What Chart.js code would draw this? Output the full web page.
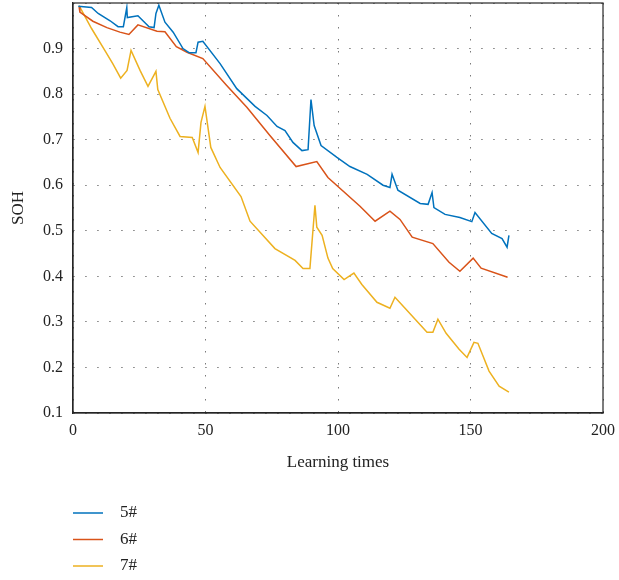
<!DOCTYPE html>
<html>
<head>
<meta charset="utf-8">
<script src="https://cdn.jsdelivr.net/npm/chart.js@4/dist/chart.umd.min.js"></script>
<style>
  html, body { margin: 0; padding: 0; background: #fff; }
  #wrap { width: 619px; height: 580px; }
</style>
</head>
<body>
<div id="wrap"><canvas id="chart" width="619" height="580"></canvas></div>
<script>
// series 5#
const s5X = [2, 7, 9.5, 14, 17, 19, 20.3, 20.5, 24.5, 28.7, 30.6, 31.3, 32.4, 34.7, 37.8, 41.5, 43.8, 46.4, 47.2, 49, 55.5, 61.8, 68.7, 73.2, 77, 80, 83, 86.4, 88.7, 89.8, 91, 93.6, 99.6, 104.5, 111, 117, 119.6, 120.4, 122.6, 131, 134, 135.5, 136.2, 140.4, 146, 150.5, 151.7, 158, 161.9, 163.8, 164.5];
const s5Y = [0.993, 0.99, 0.977, 0.961, 0.948, 0.948, 0.99, 0.968, 0.972, 0.948, 0.946, 0.977, 0.995, 0.958, 0.936, 0.9, 0.891, 0.891, 0.914, 0.916, 0.867, 0.812, 0.773, 0.753, 0.729, 0.72, 0.694, 0.676, 0.678, 0.788, 0.731, 0.687, 0.661, 0.641, 0.624, 0.6, 0.595, 0.624, 0.589, 0.56, 0.558, 0.584, 0.551, 0.536, 0.529, 0.52, 0.54, 0.494, 0.483, 0.464, 0.49];

// series 6#
const s6X = [2.3, 2.6, 7.5, 12.8, 17.7, 21.1, 24.5, 31.7, 34.7, 39, 43, 49, 58, 65.6, 74.3, 84.2, 92, 96.2, 108.3, 114, 119.6, 123.4, 128, 135.8, 141.9, 146, 151, 154, 164];
const s6Y = [0.992, 0.98, 0.96, 0.946, 0.936, 0.931, 0.952, 0.938, 0.937, 0.904, 0.892, 0.878, 0.819, 0.771, 0.709, 0.641, 0.652, 0.617, 0.554, 0.521, 0.543, 0.525, 0.486, 0.472, 0.431, 0.411, 0.44, 0.418, 0.398];

// series 7#
const s7X = [2.3, 7, 12, 15, 18, 20.4, 21.9, 25.3, 28.3, 31.3, 32, 36.6, 40.4, 45, 47.2, 48.3, 49.8, 52, 55.5, 63.4, 66.8, 70.6, 76.2, 83.8, 86.8, 89.4, 91.3, 92, 94, 96.2, 98, 102.3, 106, 109, 114.7, 119.6, 121.5, 125.3, 133.6, 135.8, 137.7, 140.8, 145.7, 148.7, 151.3, 152.8, 157, 160.8, 164.5];
const s7Y = [0.994, 0.944, 0.896, 0.867, 0.835, 0.852, 0.896, 0.852, 0.817, 0.85, 0.81, 0.747, 0.707, 0.705, 0.672, 0.738, 0.773, 0.683, 0.639, 0.575, 0.521, 0.497, 0.461, 0.435, 0.417, 0.417, 0.556, 0.508, 0.49, 0.44, 0.417, 0.393, 0.407, 0.382, 0.343, 0.33, 0.354, 0.33, 0.277, 0.277, 0.306, 0.275, 0.24, 0.222, 0.255, 0.253, 0.192, 0.159, 0.146];

const seriesLabels = ['5#', '6#', '7#'];
const seriesColors = ['#0072BD', '#D95319', '#EDB120'];
const xTicks = [0, 50, 100, 150, 200];
const yTicks = [0.1, 0.2, 0.3, 0.4, 0.5, 0.6, 0.7, 0.8, 0.9, 1.0];

const serif = '"Liberation Serif", "DejaVu Serif", serif';

const toPoints = (xs, ys) => xs.map((x, i) => ({ x: x, y: ys[i] }));

const makeDataset = (label, xs, ys, color) => ({
    label: label,
    data: toPoints(xs, ys),
    borderColor: color,
    backgroundColor: color,
    borderWidth: 1.5,
    pointRadius: 0,
    tension: 0,
    fill: false
});

// box round the plot area
const frameBox = {
    id: 'frameBox',
    afterDraw(chart) {
        const { ctx, chartArea: a } = chart;
        ctx.save();
        ctx.strokeStyle = '#262626';
        ctx.lineWidth = 1.2;
        ctx.strokeRect(a.left, a.top, a.right - a.left, a.bottom - a.top);
        ctx.restore();
    }
};

// legend stacked under the axis title
const stackedLegend = {
    id: 'stackedLegend',
    afterDraw(chart) {
        const ctx = chart.ctx;
        const left = chart.chartArea.left;
        ctx.save();
        ctx.font = '17px ' + serif;
        ctx.textBaseline = 'middle';
        chart.data.datasets.forEach((ds, i) => {
            const y = 513 + i * 26.5;
            ctx.strokeStyle = ds.borderColor;
            ctx.lineWidth = 1.5;
            ctx.beginPath();
            ctx.moveTo(left, y);
            ctx.lineTo(left + 30, y);
            ctx.stroke();
            ctx.fillStyle = '#222';
            ctx.fillText(ds.label, left + 47, y);
        });
        ctx.restore();
    }
};

new Chart(document.getElementById('chart'), {
    type: 'line',
    data: {
        datasets: [
            makeDataset(seriesLabels[0], s5X, s5Y, seriesColors[0]),
            makeDataset(seriesLabels[1], s6X, s6Y, seriesColors[1]),
            makeDataset(seriesLabels[2], s7X, s7Y, seriesColors[2])
        ]
    },
    options: {
        responsive: false,
        animation: false,
        layout: { padding: { left: 0, top: 3, right: 16, bottom: 97 } },
        plugins: {
            legend: { display: false },
            tooltip: { enabled: false }
        },
        scales: {
            x: {
                type: 'linear',
                min: xTicks[0],
                max: xTicks[xTicks.length - 1],
                afterBuildTicks: (scale) => { scale.ticks = xTicks.map(v => ({ value: v })); },
                afterFit: (scale) => {
                    scale.height = 70;
                    scale.paddingLeft = 0;
                    scale.paddingRight = 0;
                },
                ticks: {
                    padding: 8,
                    color: '#222',
                    font: { family: serif, size: 16 },
                    maxRotation: 0
                },
                grid: { color: '#7a7a7a', lineWidth: 1, drawTicks: false },
                border: { display: true, color: '#262626', width: 1.2, dash: [1.5, 10.5] },
                title: {
                    display: true,
                    text: 'Learning times',
                    color: '#222',
                    font: { family: serif, size: 17 },
                    padding: { top: 4, bottom: 10 }
                }
            },
            y: {
                type: 'linear',
                min: yTicks[0],
                max: yTicks[yTicks.length - 1],
                afterBuildTicks: (scale) => { scale.ticks = yTicks.map(v => ({ value: v })); },
                afterFit: (scale) => {
                    scale.width = 73;
                    scale.paddingTop = 0;
                    scale.paddingBottom = 0;
                },
                ticks: {
                    padding: 10,
                    color: '#222',
                    font: { family: serif, size: 16 },
                    callback: (v) => (v >= 0.999 ? '' : v.toFixed(1))
                },
                grid: { color: '#7a7a7a', lineWidth: 1, drawTicks: false },
                border: { display: true, color: '#262626', width: 1.2, dash: [1.5, 10.5] },
                title: {
                    display: true,
                    text: 'SOH',
                    color: '#222',
                    font: { family: serif, size: 17 },
                    padding: { top: 8, bottom: 4 }
                }
            }
        }
    },
    plugins: [frameBox, stackedLegend]
});
</script>
</body>
</html>
